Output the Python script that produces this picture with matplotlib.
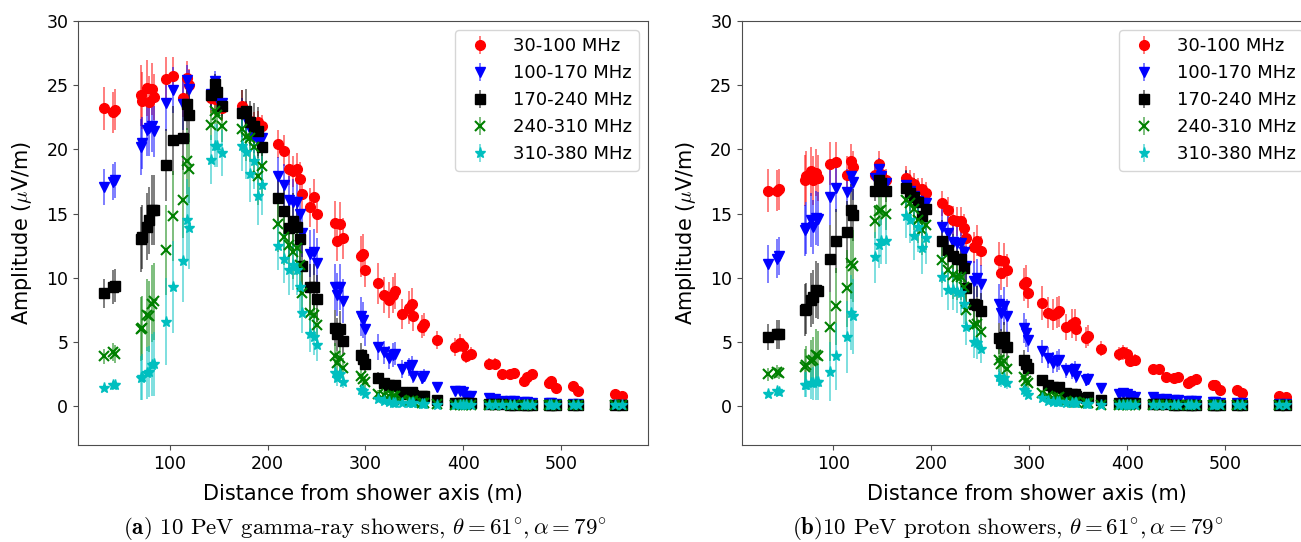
import matplotlib
matplotlib.use('Agg')
import matplotlib.pyplot as plt
from matplotlib.colors import to_rgba

plt.rcParams['mathtext.fontset'] = 'cm'

# antenna distances from the shower axis (m), same layout in both panels
dist = [33, 42, 44,
        71, 72, 77, 79, 82, 84,
        96, 103,
        114, 118, 120,
        142, 146, 148, 154,
        174, 178, 182, 186, 190, 194,
        211, 217, 222, 226, 230, 233, 235, 243, 247, 251,
        269, 271, 274, 277,
        295, 297, 299,
        313, 319, 324, 328, 330, 337, 344, 347, 348, 358, 360, 373, 391, 396,
        400, 403, 408, 426, 432, 439, 448, 452, 462, 465, 470, 487, 489, 495,
        512, 517, 555, 562]

bands = ['30-100 MHz', '100-170 MHz', '170-240 MHz', '240-310 MHz', '310-380 MHz']

# (a) gamma-ray showers
gamma_30_100 = [23.2, 22.9, 23.1,
                24.2, 23.8, 24.8, 23.7, 24.7, 24.1,
                25.5, 25.7,
                24.0, 25.6, 25.0,
                24.0, 23.9, 24.1, 23.2,
                23.4, 22.8, 22.2, 21.9, 22.1, 21.8,
                20.4, 19.9, 18.5, 18.3, 18.5, 17.7, 16.5, 15.5, 16.3, 15.0,
                14.3, 12.9, 14.2, 13.1,
                11.7, 11.9, 10.6,
                9.6, 8.7, 8.3, 8.7, 9.0, 7.2, 7.7, 8.0, 7.0, 6.2, 6.4, 5.2, 4.6, 4.9,
                4.7, 3.9, 4.1, 3.3, 3.3, 2.5, 2.5, 2.6, 2.0, 2.3, 2.5, 1.8, 2.0, 1.45,
                1.6, 1.2, 1.0, 0.8]
gamma_100_170 = [17.1, 17.5, 17.6,
                 20.2, 20.5, 21.5, 21.7, 21.8, 21.4,
                 23.6, 24.6,
                 23.5, 25.4, 24.7,
                 24.3, 25.3, 24.0, 23.6,
                 22.8, 22.4, 21.6, 21.0, 20.7, 20.9,
                 17.9, 17.2, 16.1, 15.9, 15.9, 15.0, 13.5, 11.9, 12.0, 11.2,
                 9.3, 8.7, 9.3, 8.2,
                 7.0, 6.7, 6.0,
                 4.6, 4.2, 3.8, 4.0, 4.1, 2.9, 3.1, 3.2, 2.4, 2.25, 2.4, 1.5, 1.2, 1.2,
                 1.1, 0.8, 0.8, 0.65, 0.6, 0.45, 0.4, 0.4, 0.35, 0.35, 0.3, 0.25, 0.25, 0.2,
                 0.2, 0.2, 0.15, 0.15]
gamma_170_240 = [8.8, 9.3, 9.4,
                 13.0, 13.2, 14.0, 14.5, 15.3, 15.3,
                 18.8, 20.7,
                 20.9, 23.5, 22.7,
                 24.2, 25.1, 24.5, 23.4,
                 22.8, 23.0, 22.1, 21.8, 21.4, 20.2,
                 16.2, 15.2, 13.9, 14.4, 14.0, 13.0, 10.9, 9.3, 9.3, 8.4,
                 6.1, 5.6, 6.0, 5.1,
                 4.0, 3.7, 3.3,
                 2.25, 1.85, 1.7, 1.6, 1.7, 1.1, 1.0, 1.1, 0.9, 0.8, 0.8, 0.5, 0.3, 0.3,
                 0.3, 0.25, 0.25, 0.2, 0.2, 0.2, 0.15, 0.15, 0.15, 0.15, 0.15, 0.15, 0.15, 0.15,
                 0.15, 0.15, 0.15, 0.15]
gamma_240_310 = [3.9, 4.2, 4.1,
                 6.0, 6.1, 7.1, 7.0, 8.0, 8.2,
                 12.2, 14.8,
                 16.1, 19.1, 18.5,
                 21.9, 23.0, 22.7, 21.8,
                 21.6, 21.0, 20.9, 20.2, 17.9, 18.7,
                 14.2, 13.2, 12.6, 12.0, 12.3, 11.0, 8.8, 7.3, 7.1, 6.3,
                 3.9, 3.4, 3.8, 3.0,
                 2.4, 2.1, 1.9,
                 1.0, 0.9, 0.8, 0.8, 0.8, 0.5, 0.4, 0.4, 0.4, 0.3, 0.3, 0.2, 0.15, 0.15,
                 0.15, 0.12, 0.12, 0.1, 0.1, 0.1, 0.1, 0.1, 0.1, 0.1, 0.1, 0.1, 0.1, 0.1,
                 0.1, 0.1, 0.1, 0.1]
gamma_310_380 = [1.45, 1.7, 1.65,
                 2.2, 2.3, 2.6, 2.7, 3.2, 3.3,
                 6.6, 9.3,
                 11.3, 14.5, 13.9,
                 19.2, 20.3, 20.3, 19.7,
                 20.3, 19.8, 18.1, 19.1, 16.4, 17.2,
                 12.5, 11.5, 10.6, 11.0, 10.6, 9.3, 7.3, 5.6, 5.4, 4.8,
                 2.6, 2.2, 2.5, 1.9,
                 1.3, 1.2, 1.0,
                 0.55, 0.4, 0.35, 0.3, 0.3, 0.25, 0.25, 0.25, 0.25, 0.2, 0.2, 0.15, 0.1, 0.1,
                 0.1, 0.1, 0.1, 0.1, 0.1, 0.1, 0.1, 0.1, 0.1, 0.1, 0.1, 0.1, 0.1, 0.1,
                 0.1, 0.1, 0.1, 0.1]

gamma_err_30_100 = [1.7, 1.6, 1.6,
                    2.4, 2.2, 2.2, 2.0, 2.0, 1.8,
                    1.7, 1.5,
                    1.5, 1.3, 1.3,
                    1.2, 1.2, 1.0, 1.0,
                    1.2, 1.0, 1.0, 1.0, 0.9, 0.9,
                    1.1, 1.2, 1.3, 1.2, 1.2, 1.3, 1.3, 1.5, 1.4, 1.5,
                    1.7, 1.6, 1.7, 1.6,
                    1.6, 1.5, 1.3,
                    1.6, 1.4, 1.4, 1.4, 1.4, 1.2, 1.3, 1.2, 1.1, 0.9, 0.9, 0.7, 0.7, 0.7,
                    0.6, 0.5, 0.5, 0.45, 0.45, 0.35, 0.35, 0.35, 0.3, 0.3, 0.3, 0.25, 0.25, 0.2,
                    0.2, 0.15, 0.15, 0.1]
gamma_err_100_170 = [1.4, 1.4, 1.4,
                     2.2, 2.0, 2.0, 2.2, 2.0, 2.0,
                     2.2, 1.8,
                     2.0, 1.2, 1.5,
                     1.2, 0.8, 1.0, 1.0,
                     1.2, 1.3, 1.3, 1.3, 1.4, 1.4,
                     1.5, 1.7, 1.8, 1.8, 1.8, 1.9, 1.9, 1.8, 1.8, 1.9,
                     1.8, 1.7, 1.8, 1.7,
                     1.5, 1.4, 1.3,
                     1.0, 0.9, 0.9, 0.9, 0.9, 0.7, 0.7, 0.7, 0.6, 0.5, 0.5, 0.35, 0.3, 0.3,
                     0.3, 0.2, 0.2, 0.15, 0.15, 0.1, 0.1, 0.05, 0.05, 0.05, 0.05, 0.05, 0.05, 0.05,
                     0.05, 0.05, 0.05, 0.05]
gamma_err_170_240 = [1.1, 1.3, 1.3,
                     2.5, 2.5, 2.6, 2.6, 2.7, 2.7,
                     2.8, 2.7,
                     2.5, 2.0, 2.1,
                     0.9, 0.8, 0.9, 1.0,
                     1.8, 1.7, 1.7, 1.8, 1.9, 1.9,
                     2.0, 2.1, 2.2, 2.2, 2.2, 2.2, 2.0, 1.8, 1.8, 1.8,
                     1.4, 1.3, 1.4, 1.2,
                     0.9, 0.8, 0.7,
                     0.4, 0.35, 0.3, 0.3, 0.3, 0.2, 0.2, 0.2, 0.2, 0.15, 0.15, 0.1, 0.05, 0.05,
                     0.05, 0.05, 0.05, 0.05, 0.05, 0.05, 0.05, 0.05, 0.05, 0.05, 0.05, 0.05, 0.05, 0.05,
                     0.05, 0.05, 0.05, 0.05]
gamma_err_240_310 = [0.6, 0.7, 0.7,
                     2.5, 2.5, 2.8, 2.8, 3.0, 3.0,
                     3.5, 3.5,
                     3.0, 2.6, 2.7,
                     1.2, 1.0, 1.1, 1.2,
                     1.8, 1.9, 1.9, 2.0, 2.2, 2.2,
                     2.2, 2.2, 2.1, 2.1, 2.1, 2.0, 1.7, 1.5, 1.5, 1.4,
                     1.0, 0.9, 1.0, 0.8,
                     0.6, 0.5, 0.5,
                     0.25, 0.2, 0.2, 0.2, 0.2, 0.15, 0.1, 0.1, 0.1, 0.1, 0.1, 0.05, 0.05, 0.05,
                     0.05, 0.05, 0.05, 0.05, 0.05, 0.05, 0.05, 0.05, 0.05, 0.05, 0.05, 0.05, 0.05, 0.05,
                     0.05, 0.05, 0.05, 0.05]
gamma_err_310_380 = [0.25, 0.3, 0.3,
                     1.7, 1.8, 2.0, 2.0, 2.4, 2.5,
                     3.4, 3.6,
                     3.2, 3.2, 3.2,
                     1.9, 1.7, 1.7, 1.8,
                     2.0, 2.1, 2.2, 2.2, 2.3, 2.3,
                     1.9, 1.9, 1.9, 1.9, 1.9, 1.9, 1.6, 1.4, 1.4, 1.3,
                     0.7, 0.6, 0.7, 0.5,
                     0.35, 0.3, 0.3,
                     0.15, 0.1, 0.1, 0.05, 0.05, 0.05, 0.05, 0.05, 0.05, 0.05, 0.05, 0.05, 0.05, 0.05,
                     0.05, 0.05, 0.05, 0.05, 0.05, 0.05, 0.05, 0.05, 0.05, 0.05, 0.05, 0.05, 0.05, 0.05,
                     0.05, 0.05, 0.05, 0.05]

# (b) proton showers
proton_30_100 = [16.8, 16.8, 16.9,
                 17.6, 17.9, 18.3, 17.6, 18.2, 17.8,
                 18.9, 19.0,
                 18.0, 19.1, 18.6,
                 18.0, 18.9, 18.1, 17.6,
                 17.8, 17.5, 17.3, 16.9, 16.9, 16.6,
                 15.8, 15.3, 14.5, 14.4, 14.4, 13.9, 13.1, 12.4, 12.9, 12.1,
                 11.4, 10.4, 11.3, 10.6,
                 9.5, 9.7, 8.8,
                 8.05, 7.3, 7.15, 7.3, 7.4, 6.2, 6.45, 6.6, 6.0, 5.35, 5.5, 4.5, 4.05, 4.2,
                 4.1, 3.5, 3.6, 2.9, 2.9, 2.3, 2.2, 2.3, 1.8, 2.0, 2.15, 1.65, 1.7, 1.3,
                 1.3, 1.05, 0.85, 0.75]
proton_100_170 = [11.1, 11.5, 11.7,
                  13.7, 13.9, 14.5, 14.0, 14.7, 14.6,
                  16.3, 17.0,
                  16.7, 17.9, 17.5,
                  17.8, 18.5, 17.9, 17.4,
                  17.2, 16.8, 16.4, 16.0, 15.8, 15.8,
                  14.0, 13.5, 12.8, 12.7, 12.7, 12.0, 10.9, 9.8, 10.0, 9.5,
                  8.0, 7.3, 7.8, 7.0,
                  6.1, 5.7, 5.2,
                  4.3, 3.8, 3.4, 3.5, 3.65, 2.8, 2.75, 2.9, 2.35, 2.05, 2.15, 1.45, 1.0, 1.05,
                  0.95, 0.8, 0.75, 0.7, 0.6, 0.55, 0.5, 0.5, 0.42, 0.42, 0.42, 0.35, 0.35, 0.3,
                  0.28, 0.28, 0.2, 0.2]
proton_170_240 = [5.4, 5.6, 5.6,
                  7.5, 7.6, 8.3, 8.5, 9.1, 9.0,
                  11.5, 12.9,
                  13.6, 15.3, 14.9,
                  16.8, 17.6, 17.4, 16.8,
                  17.0, 16.6, 16.3, 15.9, 14.8, 15.4,
                  12.9, 12.2, 11.7, 11.5, 11.5, 10.8, 9.2, 8.0, 7.9, 7.4,
                  5.3, 4.9, 5.4, 4.6,
                  3.6, 3.3, 3.0,
                  2.05, 1.65, 1.5, 1.45, 1.5, 1.05, 0.95, 1.0, 0.85, 0.67, 0.7, 0.5, 0.3, 0.3,
                  0.28, 0.25, 0.25, 0.2, 0.2, 0.2, 0.15, 0.15, 0.15, 0.15, 0.15, 0.15, 0.15, 0.15,
                  0.15, 0.15, 0.15, 0.15]
proton_240_310 = [2.5, 2.7, 2.6,
                  3.1, 3.2, 3.5, 3.6, 4.0, 3.9,
                  6.2, 7.8,
                  9.2, 11.2, 10.9,
                  14.4, 15.2, 15.3, 15.0,
                  16.1, 15.8, 15.4, 14.5, 13.7, 14.1,
                  11.4, 10.6, 10.2, 10.1, 10.1, 9.3, 7.5, 6.3, 6.4, 5.8,
                  3.6, 3.3, 3.5, 2.9,
                  2.3, 2.0, 1.8,
                  1.05, 0.8, 0.67, 0.67, 0.7, 0.4, 0.35, 0.35, 0.35, 0.23, 0.23, 0.15, 0.12, 0.12,
                  0.12, 0.1, 0.1, 0.1, 0.1, 0.1, 0.1, 0.1, 0.1, 0.1, 0.1, 0.1, 0.1, 0.1,
                  0.1, 0.1, 0.1, 0.1]
proton_310_380 = [1.0, 1.2, 1.1,
                  1.7, 1.7, 1.8, 1.8, 1.9, 1.9,
                  2.7, 3.9,
                  5.4, 7.3, 7.0,
                  11.6, 12.6, 12.9, 12.9,
                  14.8, 14.5, 13.3, 14.0, 12.3, 13.1,
                  10.1, 9.1, 9.1, 8.9, 8.8, 8.0, 6.2, 5.0, 4.9, 4.5,
                  2.3, 2.0, 2.2, 1.8,
                  1.3, 1.1, 0.9,
                  0.67, 0.4, 0.35, 0.35, 0.35, 0.25, 0.25, 0.25, 0.25, 0.16, 0.16, 0.12, 0.1, 0.1,
                  0.1, 0.1, 0.1, 0.1, 0.1, 0.1, 0.1, 0.1, 0.1, 0.1, 0.1, 0.1, 0.1, 0.1,
                  0.1, 0.1, 0.1, 0.1]

proton_err_30_100 = [1.7, 1.6, 1.6,
                     2.0, 2.0, 1.9, 1.9, 1.8, 1.8,
                     1.7, 1.6,
                     1.5, 1.3, 1.3,
                     1.0, 1.0, 0.9, 0.9,
                     0.9, 0.9, 0.9, 0.9, 0.9, 0.9,
                     1.0, 1.0, 1.1, 1.1, 1.1, 1.1, 1.1, 1.2, 1.2, 1.2,
                     1.4, 1.3, 1.4, 1.3,
                     1.3, 1.3, 1.1,
                     1.3, 1.2, 1.2, 1.2, 1.2, 1.0, 1.1, 1.0, 0.9, 0.8, 0.8, 0.6, 0.55, 0.55,
                     0.5, 0.45, 0.45, 0.35, 0.35, 0.3, 0.3, 0.3, 0.25, 0.25, 0.25, 0.2, 0.2, 0.15,
                     0.15, 0.12, 0.1, 0.1]
proton_err_100_170 = [1.5, 1.5, 1.5,
                      2.0, 2.0, 2.1, 2.1, 2.1, 2.1,
                      2.2, 1.9,
                      1.8, 1.2, 1.4,
                      1.0, 0.8, 0.9, 0.9,
                      1.1, 1.2, 1.2, 1.2, 1.3, 1.3,
                      1.4, 1.5, 1.6, 1.6, 1.6, 1.6, 1.6, 1.5, 1.5, 1.5,
                      1.5, 1.4, 1.5, 1.4,
                      1.2, 1.1, 1.0,
                      0.9, 0.8, 0.8, 0.8, 0.8, 0.6, 0.6, 0.6, 0.5, 0.45, 0.45, 0.3, 0.25, 0.25,
                      0.25, 0.2, 0.2, 0.15, 0.15, 0.1, 0.1, 0.05, 0.05, 0.05, 0.05, 0.05, 0.05, 0.05,
                      0.05, 0.05, 0.05, 0.05]
proton_err_170_240 = [1.0, 1.1, 1.1,
                      2.0, 2.0, 2.1, 2.1, 2.2, 2.2,
                      2.6, 2.5,
                      2.4, 2.0, 2.0,
                      0.8, 0.8, 0.8, 0.9,
                      1.4, 1.4, 1.5, 1.6, 1.7, 1.7,
                      1.6, 1.7, 1.7, 1.7, 1.7, 1.7, 1.6, 1.5, 1.5, 1.4,
                      1.2, 1.1, 1.2, 1.0,
                      0.8, 0.7, 0.6,
                      0.35, 0.3, 0.3, 0.3, 0.3, 0.2, 0.2, 0.2, 0.15, 0.15, 0.15, 0.1, 0.05, 0.05,
                      0.05, 0.05, 0.05, 0.05, 0.05, 0.05, 0.05, 0.05, 0.05, 0.05, 0.05, 0.05, 0.05, 0.05,
                      0.05, 0.05, 0.05, 0.05]
proton_err_240_310 = [0.5, 0.5, 0.5,
                      1.4, 1.5, 1.7, 1.8, 2.0, 2.0,
                      2.7, 3.0,
                      3.0, 2.8, 2.8,
                      1.3, 1.2, 1.2, 1.3,
                      1.5, 1.6, 1.7, 1.8, 1.9, 1.9,
                      1.8, 1.8, 1.8, 1.8, 1.8, 1.7, 1.5, 1.3, 1.3, 1.2,
                      0.9, 0.8, 0.9, 0.7,
                      0.5, 0.45, 0.4,
                      0.2, 0.15, 0.15, 0.15, 0.15, 0.1, 0.1, 0.1, 0.1, 0.05, 0.05, 0.05, 0.05, 0.05,
                      0.05, 0.05, 0.05, 0.05, 0.05, 0.05, 0.05, 0.05, 0.05, 0.05, 0.05, 0.05, 0.05, 0.05,
                      0.05, 0.05, 0.05, 0.05]
proton_err_310_380 = [0.2, 0.2, 0.2,
                      1.0, 1.0, 1.2, 1.3, 1.4, 1.4,
                      2.3, 2.6,
                      2.8, 2.9, 2.9,
                      2.0, 1.8, 1.8, 1.8,
                      1.7, 1.8, 1.9, 2.0, 2.0, 2.0,
                      1.6, 1.6, 1.6, 1.6, 1.6, 1.6, 1.4, 1.2, 1.2, 1.1,
                      0.6, 0.5, 0.6, 0.45,
                      0.3, 0.25, 0.25,
                      0.12, 0.1, 0.1, 0.1, 0.1, 0.05, 0.05, 0.05, 0.05, 0.05, 0.05, 0.05, 0.05, 0.05,
                      0.05, 0.05, 0.05, 0.05, 0.05, 0.05, 0.05, 0.05, 0.05, 0.05, 0.05, 0.05, 0.05, 0.05,
                      0.05, 0.05, 0.05, 0.05]

colors = ['r', 'b', 'k', 'g', 'c']
markers = ['o', 'v', 's', 'x', '*']
msizes = [7, 7.5, 7, 7, 8]

gamma_vals = [gamma_30_100, gamma_100_170, gamma_170_240, gamma_240_310, gamma_310_380]
gamma_errs = [gamma_err_30_100, gamma_err_100_170, gamma_err_170_240, gamma_err_240_310, gamma_err_310_380]
proton_vals = [proton_30_100, proton_100_170, proton_170_240, proton_240_310, proton_310_380]
proton_errs = [proton_err_30_100, proton_err_100_170, proton_err_170_240, proton_err_240_310, proton_err_310_380]


def draw_panel(ax, vals, errs):
    for i in range(len(bands)):
        ax.errorbar(dist, vals[i], yerr=errs[i], fmt=markers[i], color=colors[i],
                    ecolor=to_rgba(colors[i], 0.55), elinewidth=1.3, ms=msizes[i],
                    mew=1.5 if markers[i] == 'x' else 1.0, label=bands[i])
    ax.set_ylim(-3, 30)
    ax.set_xlabel('Distance from shower axis (m)', fontsize=15, labelpad=8)
    ax.set_ylabel(r'Amplitude ($\mu$V/m)', fontsize=15, labelpad=9)
    ax.tick_params(labelsize=12.5, color='0.3')
    for sp in ax.spines.values():
        sp.set_color('0.3')
    ax.legend(loc='upper right', fontsize=13)


fig = plt.figure(figsize=(13.01, 5.42), dpi=100)
ax1 = fig.add_axes([0.0600, 0.179, 0.4381, 0.7823])
ax2 = fig.add_axes([0.5703, 0.179, 0.4381, 0.7823])

draw_panel(ax1, gamma_vals, gamma_errs)
draw_panel(ax2, proton_vals, proton_errs)

fig.text(0.2806, 0.024, r'$\mathbf{(a)}$ 10 PeV gamma-ray showers, $\theta = 61^{\circ}, \alpha = 79^{\circ}$',
         ha='center', va='center', fontsize=16.5, family='cmr10')
fig.text(0.7745, 0.024, r'$\mathbf{(b)}$10 PeV proton showers, $\theta = 61^{\circ}, \alpha = 79^{\circ}$',
         ha='center', va='center', fontsize=16.5, family='cmr10')

fig.savefig('out.png', dpi=100)
